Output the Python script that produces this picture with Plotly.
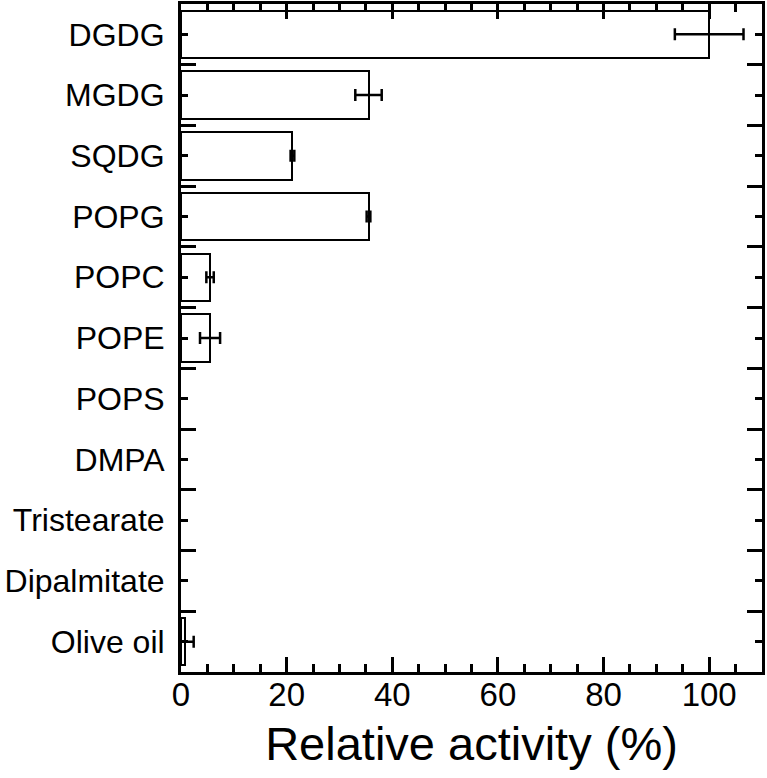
import plotly.graph_objects as go

categories = ["DGDG", "MGDG", "SQDG", "POPG", "POPC", "POPE", "POPS", "DMPA",
              "Tristearate", "Dipalmitate", "Olive oil"]
activity = [100, 35.5, 21.1, 35.5, 5.5, 5.5, 0, 0, 0, 0, 0.8]
errors = [6.5, 2.5, 0.35, 0.35, 0.7, 1.9, 0, 0, 0, 0, 1.6]

x_major = [0, 20, 40, 60, 80, 100]

positions = list(range(len(categories)))
boundaries = [p + 0.5 for p in positions[:-1]]
outline_widths = [2 if v > 0 else 0 for v in activity]
err_idx = [i for i, e in enumerate(errors) if e > 0]

FONT = "Liberation Sans, Arial, Helvetica, sans-serif"

fig = go.Figure()
fig.add_trace(go.Bar(
    x=activity,
    y=positions,
    orientation="h",
    width=0.78,
    marker=dict(color="white", line=dict(color="black", width=outline_widths)),
    showlegend=False,
))
fig.add_trace(go.Scatter(
    x=[activity[i] for i in err_idx],
    y=[positions[i] for i in err_idx],
    mode="markers",
    marker=dict(size=1, opacity=0),
    error_x=dict(type="data", array=[errors[i] for i in err_idx], visible=True,
                 color="black", thickness=2.5, width=6),
    showlegend=False,
))

fig.update_layout(
    width=767,
    height=778,
    margin=dict(l=181, r=5, t=4, b=106),
    plot_bgcolor="white",
    paper_bgcolor="white",
    font=dict(family=FONT, color="black"),
    bargap=0,
)

fig.update_xaxes(
    range=[0, 110],
    tickvals=x_major,
    ticktext=[str(v) for v in x_major],
    ticks="inside",
    ticklen=15,
    tickwidth=2.5,
    tickcolor="black",
    minor=dict(dtick=5, tick0=0, ticks="inside", ticklen=8, tickwidth=2.5,
               tickcolor="black", showgrid=False),
    showline=True,
    linecolor="black",
    linewidth=3,
    mirror="allticks",
    showgrid=False,
    zeroline=False,
    automargin=False,
    tickfont=dict(size=33, family=FONT),
    ticklabelstandoff=-9,
    title=dict(text="Relative activity (%)", font=dict(size=47, family=FONT),
               standoff=16),
)

fig.update_yaxes(
    range=[len(categories) - 0.5, -0.5],
    tickvals=positions,
    ticktext=categories,
    ticks="inside",
    ticklen=7,
    tickwidth=2.5,
    tickcolor="black",
    minor=dict(tickmode="array", tickvals=boundaries, ticks="inside",
               ticklen=15, tickwidth=2.5, tickcolor="black", showgrid=False),
    showline=True,
    linecolor="black",
    linewidth=3,
    mirror="allticks",
    showgrid=False,
    zeroline=False,
    automargin=False,
    tickfont=dict(size=32, family=FONT),
    ticklabelstandoff=7,
)

fig.write_html("out.html",
               config={"displayModeBar": False},
               post_script="document.body.style.margin='0';"
                           "document.body.style.overflow='hidden';")
